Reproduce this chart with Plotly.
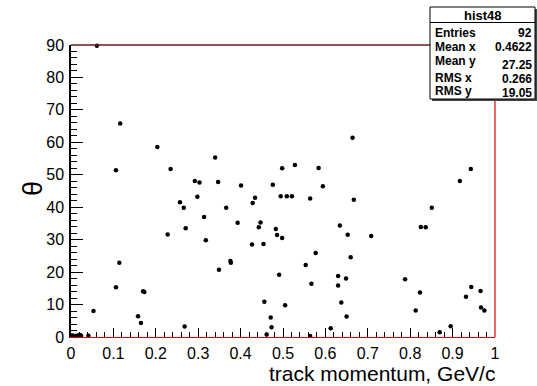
import plotly.graph_objects as go

# ---- data ----
track_momentum = [
    0.002, 0.006, 0.011, 0.016, 0.021, 0.024, 0.041, 0.053, 0.061,
    0.106, 0.106, 0.114, 0.116, 0.158, 0.165, 0.170, 0.173,
    0.2036, 0.228, 0.235, 0.257, 0.266, 0.268, 0.2705, 0.292, 0.298, 0.303,
    0.314, 0.318, 0.340, 0.347, 0.349, 0.366, 0.376, 0.377, 0.393,
    0.401, 0.427, 0.4285, 0.434, 0.443, 0.447, 0.454, 0.456, 0.4615,
    0.471, 0.473, 0.476, 0.483, 0.486, 0.491, 0.4945, 0.498, 0.498,
    0.505, 0.509, 0.521, 0.528, 0.5535, 0.564, 0.564, 0.567, 0.577,
    0.584, 0.594, 0.6125, 0.630, 0.630, 0.634, 0.6375, 0.6486, 0.650,
    0.6525, 0.6596, 0.664, 0.667, 0.708, 0.788, 0.813, 0.823, 0.825,
    0.8365, 0.851, 0.8696, 0.8955, 0.917, 0.9316, 0.943, 0.944, 0.966,
    0.967, 0.975,
]
theta = [
    0.5, 0.4, 0.3, 0.5, 0.6, 0.4, 0.4, 8.0, 89.8,
    51.4, 15.3, 22.9, 65.8, 6.4, 4.3, 14.1, 13.9,
    58.6, 31.6, 51.8, 41.5, 39.8, 3.2, 33.5, 48.1, 43.2, 47.6,
    37.0, 29.8, 55.3, 47.8, 20.7, 39.8, 23.4, 22.9, 35.2,
    46.7, 28.5, 41.3, 42.9, 33.8, 35.3, 28.7, 10.9, 0.8,
    6.0, 3.0, 46.9, 33.3, 31.4, 19.2, 43.4, 52.0, 30.5,
    9.8, 43.4, 43.4, 53.0, 22.2, 42.7, 0.3, 16.4, 25.9,
    52.1, 46.5, 2.7, 18.8, 15.9, 34.4, 10.6, 18.0, 6.3,
    31.5, 24.6, 61.4, 42.3, 31.1, 17.8, 8.2, 13.7, 33.9,
    33.8, 39.8, 1.45, 3.3, 48.1, 12.4, 51.8, 15.4, 14.2,
    9.1, 8.2,
]
x_ticks = [0, 0.1, 0.2, 0.3, 0.4, 0.5, 0.6, 0.7, 0.8, 0.9, 1]
y_ticks = [0, 10, 20, 30, 40, 50, 60, 70, 80, 90]
stats_title = "hist48"
stats_labels = ["Entries", "Mean x", "Mean y", "RMS x", "RMS y"]
stats_values = ["92", "0.4622", "27.25", "0.266", "19.05"]

# ---- layout geometry (pixels) ----
W, H = 537, 386
L, R, T, B = 71, 495, 45, 337
FONT = "Liberation Sans, Arial, Helvetica, sans-serif"


def px(xp):
    return (xp - L) / (R - L)


def py(yp):
    return (B - yp) / (B - T)


fig = go.Figure()
fig.add_trace(go.Scatter(
    x=track_momentum, y=theta, mode="markers",
    marker=dict(color="black", size=4.5, line=dict(width=0)),
    showlegend=False, hoverinfo="skip", cliponaxis=False,
))

fig.update_layout(
    width=W, height=H, autosize=False,
    margin=dict(l=L, r=W - R, t=T, b=H - B, pad=0),
    paper_bgcolor="white", plot_bgcolor="white",
    font=dict(family=FONT, color="black"),
    xaxis=dict(
        range=[0, 1], tickvals=x_ticks, ticktext=[str(v) for v in x_ticks],
        ticks="inside", ticklen=9, tickwidth=1, tickcolor="black",
        minor=dict(ticks="inside", dtick=0.02, ticklen=5, tickcolor="black", tickwidth=1),
        showgrid=False, zeroline=False,
        showline=True, linecolor="#e00000", linewidth=1, mirror=False,
        tickfont=dict(size=16, family=FONT), ticklabelstandoff=2,
    ),
    yaxis=dict(
        range=[0, 90], tickvals=y_ticks, ticktext=[str(v) for v in y_ticks],
        ticks="inside", ticklen=12, tickwidth=1, tickcolor="black",
        minor=dict(ticks="inside", dtick=2, ticklen=6, tickcolor="black", tickwidth=1),
        showgrid=False, zeroline=False,
        showline=True, linecolor="black", linewidth=1.5, mirror=False,
        tickfont=dict(size=16, family=FONT), ticklabelstandoff=2,
    ),
)

# frame: top and right borders
fig.add_shape(type="line", xref="paper", yref="paper", x0=0, x1=1, y0=1, y1=1,
              line=dict(color="#6a1a1a", width=1.5))
fig.add_shape(type="line", xref="paper", yref="paper", x0=1, x1=1, y0=0, y1=1,
              line=dict(color="#e00000", width=1.2))

# axis titles
fig.add_annotation(text="track momentum, GeV/c", xref="paper", yref="paper",
                   x=1.003, y=py(386), xanchor="right", yanchor="bottom",
                   showarrow=False, font=dict(size=21, family=FONT), borderpad=0)
fig.add_annotation(text="θ", xref="paper", yref="paper",
                   x=px(33), y=py(189), xanchor="center", yanchor="middle",
                   textangle=-90, showarrow=False, font=dict(size=27, family=FONT))

# stats box
bx0, bx1, by0, by1 = 430, 535, 7, 99
fig.add_shape(type="rect", xref="paper", yref="paper",
              x0=px(bx0 + 2), x1=px(bx1 + 2), y0=py(by1 + 2), y1=py(by0 + 2),
              line=dict(width=0), fillcolor="#444444")
fig.add_shape(type="rect", xref="paper", yref="paper",
              x0=px(bx0), x1=px(bx1), y0=py(by1), y1=py(by0),
              line=dict(color="black", width=1), fillcolor="white")
fig.add_shape(type="line", xref="paper", yref="paper",
              x0=px(bx0), x1=px(bx1), y0=py(22.5), y1=py(22.5),
              line=dict(color="black", width=1))
fig.add_annotation(text="<b>" + stats_title + "</b>", xref="paper", yref="paper",
                   x=px((bx0 + bx1) / 2), y=py(15), xanchor="center", yanchor="middle",
                   showarrow=False, font=dict(size=13, family=FONT), borderpad=0)
label_y = [32.5, 47, 61, 78, 91]
value_y = [32.5, 47, 64.5, 79, 93]
for lab, val, ly, vy in zip(stats_labels, stats_values, label_y, value_y):
    fig.add_annotation(text="<b>" + lab + "</b>", xref="paper", yref="paper",
                       x=px(bx0 + 4), y=py(ly), xanchor="left", yanchor="middle",
                       showarrow=False, font=dict(size=12, family=FONT), borderpad=0)
    fig.add_annotation(text="<b>" + val + "</b>", xref="paper", yref="paper",
                       x=px(bx1 - 2), y=py(vy), xanchor="right", yanchor="middle",
                       showarrow=False, font=dict(size=12, family=FONT), borderpad=0)

fig.write_html("out.html")
